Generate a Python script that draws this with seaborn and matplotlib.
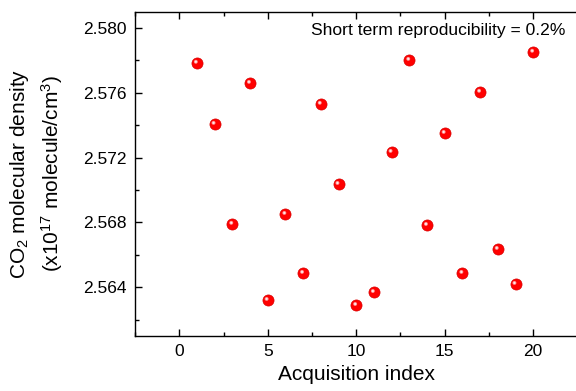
import matplotlib
matplotlib.use("Agg")
import matplotlib.pyplot as plt
import matplotlib.transforms as mtransforms
import seaborn as sns
import pandas as pd
import numpy as np

acquisition_index = list(range(1, 21))
density = [2.57784, 2.57407, 2.56790, 2.57660, 2.56320, 2.56851, 2.56487, 2.57531,
           2.57036, 2.56289, 2.56369, 2.57234, 2.57802, 2.56783, 2.57351, 2.56487,
           2.57605, 2.56635, 2.56419, 2.57852]
x_ticks = [0, 5, 10, 15, 20]
y_ticks = [2.564, 2.568, 2.572, 2.576, 2.580]
annotation = "Short term reproducibility = 0.2%"

df = pd.DataFrame({"idx": acquisition_index, "density": density})

sns.set_theme(style="ticks")
plt.rcParams["font.family"] = ["Liberation Sans", "DejaVu Sans"]
plt.rcParams["mathtext.fontset"] = "custom"
plt.rcParams["mathtext.rm"] = "Liberation Sans"
plt.rcParams["mathtext.it"] = "Liberation Sans"

fig = plt.figure(figsize=(5.76, 3.91), dpi=100)
ax = fig.add_axes([135/576, (391-335.7)/391, (577.5-135)/576, (335.7-11.7)/391])

sns.scatterplot(data=df, x="idx", y="density", ax=ax, s=64, color="#ff0000",
                edgecolor="#d80000", linewidth=0.5, zorder=3, legend=False)
# specular highlight on each sphere
offset = mtransforms.ScaledTranslation(-0.8/72, 0.8/72, fig.dpi_scale_trans)
ax.scatter(df["idx"], df["density"], s=8, color="#ff9090", edgecolor="none",
           zorder=4, transform=ax.transData + offset)
ax.scatter(df["idx"], df["density"], s=2.5, color="#ffe8e8", edgecolor="none",
           zorder=5, transform=ax.transData + offset)

ax.set_xlim(-2.5, 22.5)
ax.set_ylim(2.561, 2.581)
ax.set_xticks(x_ticks)
ax.set_yticks(y_ticks)
ax.set_yticklabels([f"{v:.3f}" for v in y_ticks])
ax.set_xticks(np.arange(-2.5, 22.6, 2.5), minor=True)
ax.set_yticks(np.arange(2.562, 2.5811, 0.002), minor=True)

ax.tick_params(which="both", direction="in", top=True, right=False, color="black",
               labelsize=12.5, width=1.0, pad=6, labelcolor="black")
ax.tick_params(which="major", length=5)
ax.tick_params(which="minor", length=3)
for sp in ax.spines.values():
    sp.set_color("black")
    sp.set_linewidth(1.0)
    sp.set_visible(True)

ax.set_xlabel("Acquisition index", fontsize=15, color="black", labelpad=4)
ax.set_ylabel("CO$_2$ molecular density\n(x10$^{17}$ molecule/cm$^3$)",
              fontsize=15, color="black", linespacing=1.4, labelpad=13)

fig.text(565/576, 1 - 30/391, annotation, ha="right", va="center",
         fontsize=12.6, color="black")

fig.savefig("out.png", dpi=100)
